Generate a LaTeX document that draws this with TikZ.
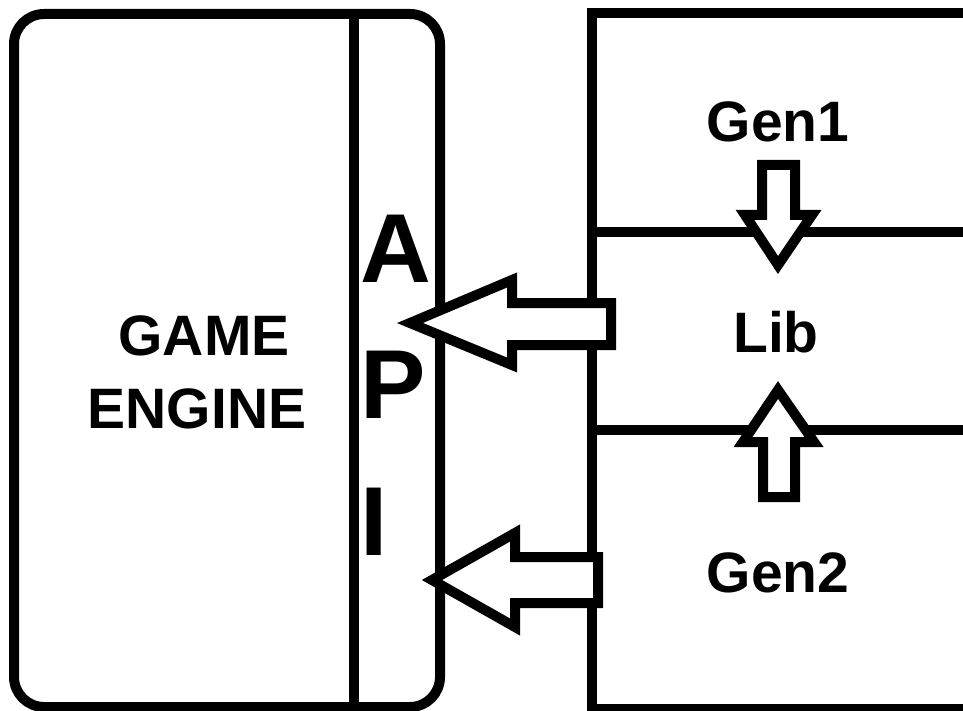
\documentclass[tikz,border=0pt]{standalone}
\usepackage{fontspec}
\setmainfont{Liberation Sans}
\begin{document}
\begin{tikzpicture}[x=1pt,y=-1pt,
  frame/.style={line width=10pt, draw=black},
  blockarrow/.style={line width=10pt, draw=black, fill=white, line join=miter},
  label/.style={font=\fontsize{57}{60}\selectfont\bfseries, inner sep=0pt, anchor=base},
  apiletter/.style={font=\fontsize{98}{100}\selectfont\bfseries, inner sep=0pt, anchor=base west}]
\useasboundingbox (0,0) rectangle (963,711);
\begin{scope}
\clip (0,0) rectangle (963,711);
% game engine block with the API strip on its right side
\draw[frame, rounded corners=30pt] (14,14) rectangle (440,707);
\draw[frame] (354,14) -- (354,707);
% generator / library column
\draw[frame] (592,13) rectangle (980,709);
\coordinate (sepA) at (592,232);
\coordinate (sepAend) at (980,232);
\coordinate (sepB) at (592,430);
\coordinate (sepBend) at (980,430);
\draw[frame] (sepA) -- (sepAend);
\draw[frame] (sepB) -- (sepBend);
\end{scope}
% labels
\node[label] (game) at (204,355) {GAME};
\node[label] (engine) at (197,428) {ENGINE};
\node[apiletter] (apiA) at (360,282) {A};
\node[apiletter] (apiP) at (360,418) {P};
\node[apiletter] (apiI) at (360,555) {I};
\node[label] (gen1) at (778,142) {Gen1};
\node[label] (lib) at (776,352) {Lib};
\node[label] (gen2) at (778,592) {Gen2};
% block arrows
\draw[blockarrow] (611,303) -- (512,303) -- (512,280) -- (410,323) -- (512,365) -- (512,345) -- (611,345) -- cycle;
\draw[blockarrow] (598,557) -- (515,557) -- (515,533) -- (432,580) -- (515,627) -- (515,603) -- (598,603) -- cycle;
\draw[blockarrow] (762,165) -- (795,165) -- (795,215) -- (812,215) -- (778,265) -- (745,215) -- (762,215) -- cycle;
\draw[blockarrow] (763,497) -- (795,497) -- (795,442) -- (814,442) -- (778,390) -- (743,442) -- (763,442) -- cycle;
\end{tikzpicture}
\end{document}
